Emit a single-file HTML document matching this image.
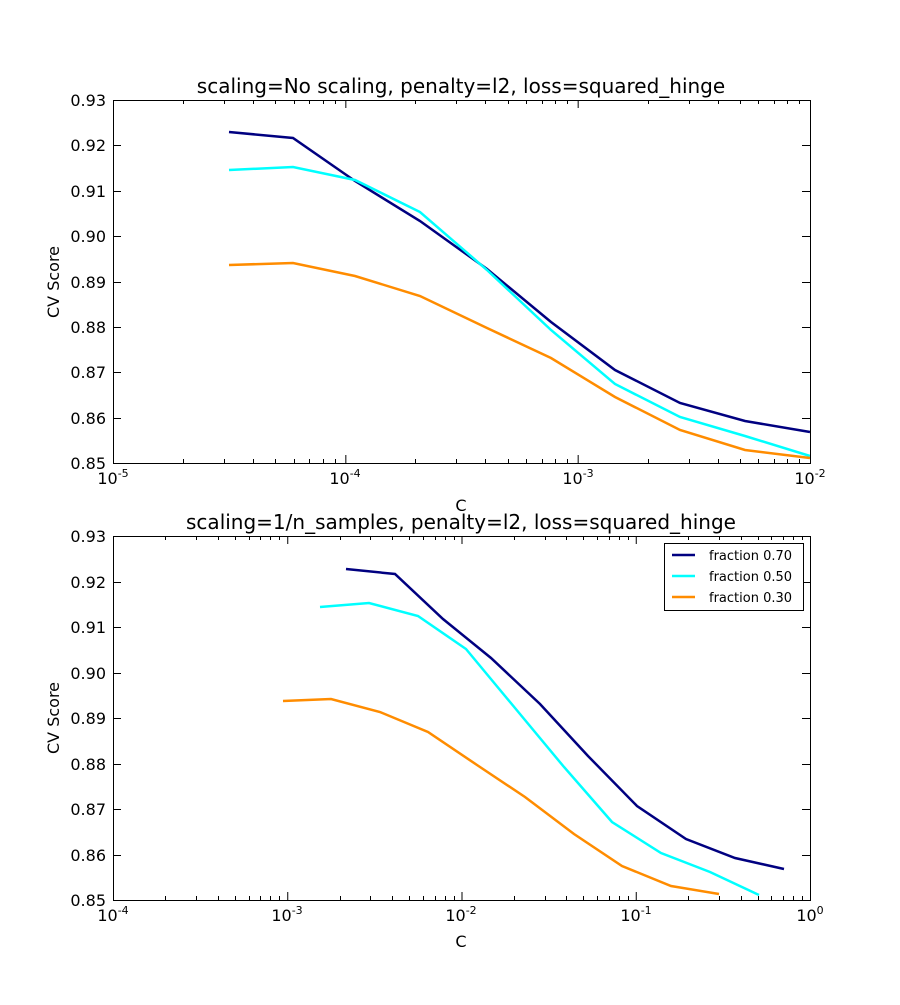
<!DOCTYPE html>
<html><head><meta charset="utf-8"><style>
body{margin:0;background:#fff}
svg text{font-family:"DejaVu Sans","Liberation Sans",sans-serif;fill:#000}
</style></head><body>
<svg id="s" width="900" height="1000" xmlns="http://www.w3.org/2000/svg">
<rect width="900" height="1000" fill="#fff"/>
<g id="ticks" stroke="#000" stroke-width="1"></g>
<polyline fill="none" stroke="#000080" stroke-width="2.5" points="229,132 293,138 355,181 420,221 487,269 551,322 615,370 680,403 745,421 810,432"/>
<polyline fill="none" stroke="#00ffff" stroke-width="2.5" points="229,170 293,167 355,180 420,212 487,270 551,330 615,384 680,417 745,436 810,456"/>
<polyline fill="none" stroke="#ff8c00" stroke-width="2.5" points="229,265 293,263 355,276 420,296 487,328 551,358 615,397 680,430 745,450 810,458"/>
<rect x="113.5" y="100.5" width="697" height="363" fill="none" stroke="#000"/>
<polyline fill="none" stroke="#000080" stroke-width="2.5" points="346,569 395,574 443,619 491,658 540,704 588,756 637,806 686,839 735,858 784,869"/>
<polyline fill="none" stroke="#00ffff" stroke-width="2.5" points="320,607 369,603 418,616 466,649 515,708 564,767 612,822 661,853 710,872 759,895"/>
<polyline fill="none" stroke="#ff8c00" stroke-width="2.5" points="283,701 331,699 380,712 428,732 477,765 525,797 574,834 622,866 671,886 719,894"/>
<rect x="113.5" y="536.5" width="697" height="364" fill="none" stroke="#000"/>

<g font-size="16">
<text x="461" y="93" text-anchor="middle" font-size="20">scaling=No scaling, penalty=l2, loss=squared_hinge</text>
<text x="106" y="106" text-anchor="end">0.93</text>
<text x="106" y="151" text-anchor="end">0.92</text>
<text x="106" y="197" text-anchor="end">0.91</text>
<text x="106" y="242" text-anchor="end">0.90</text>
<text x="106" y="288" text-anchor="end">0.89</text>
<text x="106" y="333" text-anchor="end">0.88</text>
<text x="106" y="378" text-anchor="end">0.87</text>
<text x="106" y="424" text-anchor="end">0.86</text>
<text x="106" y="469" text-anchor="end">0.85</text>
<text x="113" y="484" text-anchor="middle">10<tspan font-size="11" dy="-7">-5</tspan></text>
<text x="345" y="484" text-anchor="middle">10<tspan font-size="11" dy="-7">-4</tspan></text>
<text x="578" y="484" text-anchor="middle">10<tspan font-size="11" dy="-7">-3</tspan></text>
<text x="810" y="484" text-anchor="middle">10<tspan font-size="11" dy="-7">-2</tspan></text>
<text x="461" y="511" text-anchor="middle">C</text>
<text transform="translate(59,282) rotate(-90)" text-anchor="middle">CV Score</text>

<text x="461" y="529" text-anchor="middle" font-size="20">scaling=1/n_samples, penalty=l2, loss=squared_hinge</text>
<text x="106" y="542" text-anchor="end">0.93</text>
<text x="106" y="588" text-anchor="end">0.92</text>
<text x="106" y="633" text-anchor="end">0.91</text>
<text x="106" y="679" text-anchor="end">0.90</text>
<text x="106" y="724" text-anchor="end">0.89</text>
<text x="106" y="770" text-anchor="end">0.88</text>
<text x="106" y="815" text-anchor="end">0.87</text>
<text x="106" y="861" text-anchor="end">0.86</text>
<text x="106" y="906" text-anchor="end">0.85</text>
<text x="113" y="921" text-anchor="middle">10<tspan font-size="11" dy="-7">-4</tspan></text>
<text x="287" y="921" text-anchor="middle">10<tspan font-size="11" dy="-7">-3</tspan></text>
<text x="461" y="921" text-anchor="middle">10<tspan font-size="11" dy="-7">-2</tspan></text>
<text x="636" y="921" text-anchor="middle">10<tspan font-size="11" dy="-7">-1</tspan></text>
<text x="810" y="921" text-anchor="middle">10<tspan font-size="11" dy="-7">0</tspan></text>
<text x="461" y="947" text-anchor="middle">C</text>
<text transform="translate(59,718) rotate(-90)" text-anchor="middle">CV Score</text>
</g>

<rect x="664.5" y="543.5" width="139" height="67" fill="#fff" stroke="#000"/>
<line x1="672" y1="555" x2="695" y2="555" stroke="#000080" stroke-width="2.5"/>
<line x1="672" y1="576" x2="695" y2="576" stroke="#00ffff" stroke-width="2.5"/>
<line x1="672" y1="597" x2="695" y2="597" stroke="#ff8c00" stroke-width="2.5"/>
<g font-size="13">
<text x="709" y="560">fraction 0.70</text>
<text x="709" y="581">fraction 0.50</text>
<text x="709" y="602">fraction 0.30</text>
</g>
</svg>
<script>
var g=document.getElementById('ticks'),h='';
function L(a,b,c,d){h+='<line x1="'+a+'" y1="'+b+'" x2="'+c+'" y2="'+d+'"/>';}
function axes(x0,x1,y0,y1,dec){
 var w=(x1-x0)/dec;
 for(var d=0;d<=dec;d++){var x=x0+d*w+0.5;L(x,y1,x,y1-8);L(x,y0,x,y0+8);
  if(d<dec)for(var k=2;k<10;k++){var xm=Math.round(x0+(d+Math.log10(k))*w)+0.5;L(xm,y1,xm,y1-4);L(xm,y0,xm,y0+4);}}
 for(var i=0;i<=8;i++){var y=Math.round(y0+(y1-y0)*i/8)+0.5;L(x0,y,x0+8,y);L(x1,y,x1-8,y);}
}
axes(113,810,100,463,3);
axes(113,810,536,900,4);
g.innerHTML=h;
</script>
</body></html>
